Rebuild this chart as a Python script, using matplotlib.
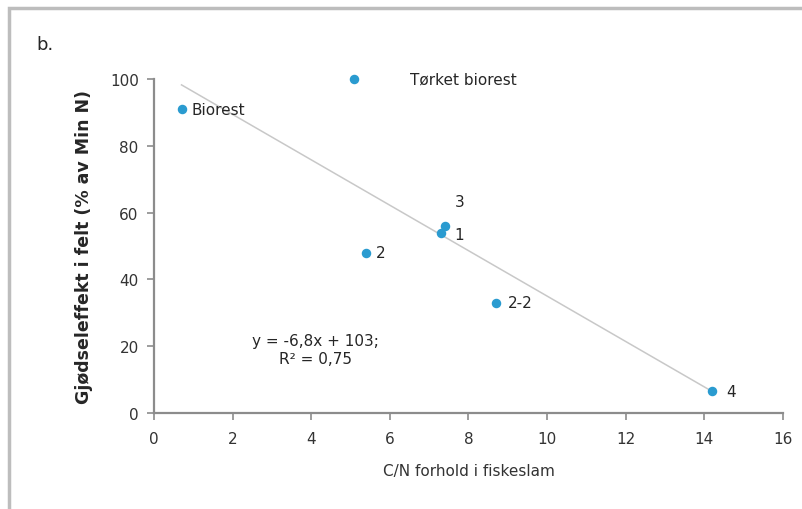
import matplotlib
matplotlib.use("Agg")
import matplotlib.pyplot as plt
import numpy as np
from matplotlib.patches import Rectangle

# C/N ratio and fertiliser effect for each fish sludge sample
labels = ["Biorest", "Tørket biorest", "2", "3", "1", "2-2", "4"]
cn_ratio = [0.7, 5.1, 5.4, 7.4, 7.3, 8.7, 14.2]
effect = [91, 100, 48, 56, 54, 33, 6.5]

# label offsets in pixels (dx, dy)
label_offsets = [(10, 0), (56, 0), (10, 0), (10, 24), (13, -2), (12, 0), (14, 0)]

slope = -6.8
intercept = 103
r2_text = "y = -6,8x + 103;\nR² = 0,75"

x_ticks = np.arange(0, 17, 2)
y_ticks = np.arange(0, 101, 20)

fig = plt.figure(figsize=(8.03, 5.10), dpi=100)

# thin grey frame along the top and left edge
fig.patches.append(Rectangle((9 / 803, -0.1), 1.2, 1.1 - 9 / 510, transform=fig.transFigure,
                             fill=False, edgecolor="#bdbdbd", linewidth=2.5))

ax = fig.add_axes([154 / 803, 1 - 414 / 510, (783 - 154) / 803, (414 - 80) / 510])

# trend line over the range of the data
xs = np.array([min(cn_ratio), max(cn_ratio)])
ax.plot(xs, slope * xs + intercept, color="#c8c8c8", linewidth=1.1, zorder=1)

ax.scatter(cn_ratio, effect, s=34, color="#2a9bd0", zorder=3, clip_on=False)

for name, x, y, (dx, dy) in zip(labels, cn_ratio, effect, label_offsets):
    ax.annotate(name, (x, y), xytext=(dx, dy), textcoords="offset pixels",
                ha="left", va="center", fontsize=11, color="#262626")

ax.text(4.1, 19, r2_text, ha="center", va="center", fontsize=11, color="#262626",
        linespacing=1.3)

ax.set_xlim(0, 16)
ax.set_ylim(0, 100)
ax.set_xticks(x_ticks)
ax.set_yticks(y_ticks)

for side in ["top", "right"]:
    ax.spines[side].set_visible(False)
for side in ["left", "bottom"]:
    ax.spines[side].set_color("#8c8c8c")
    ax.spines[side].set_linewidth(1.6)
ax.tick_params(axis="both", colors="#8c8c8c", labelcolor="#333333", labelsize=11,
               length=5, width=1.2, direction="out")
ax.tick_params(axis="x", pad=8)
ax.tick_params(axis="y", pad=6)

ax.set_xlabel("C/N forhold i fiskeslam", fontsize=11, color="#333333", labelpad=12)
ax.set_ylabel("Gjødseleffekt i felt (% av Min N)", fontsize=12.5, fontweight="bold",
              color="#262626", labelpad=12)

fig.text(36 / 803, 1 - 45 / 510, "b.", fontsize=13, color="#262626", va="center")

fig.savefig("out.png", dpi=100)
